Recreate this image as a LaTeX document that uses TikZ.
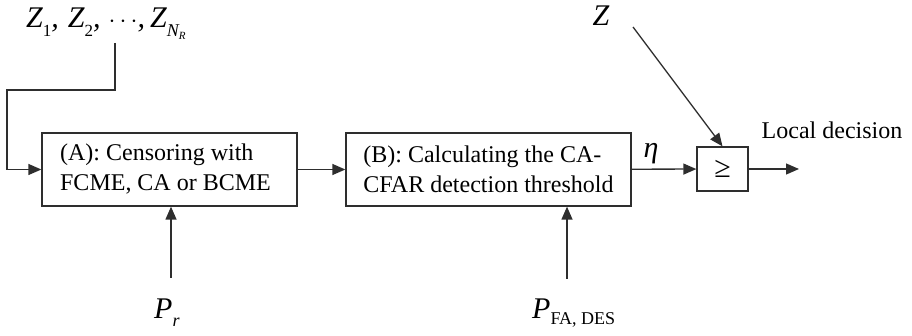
\documentclass[tikz,border=0pt]{standalone}
\usepackage{fontspec}
\setmainfont{Liberation Serif}
\usetikzlibrary{arrows.meta}
% lowered subscript in a given size
\newcommand{\lsub}[3][0.28em]{\raisebox{-#1}{\fontsize{#2}{#2}\selectfont #3}}
\begin{document}
\begin{tikzpicture}[x=1pt,y=-1pt,
  line/.style={draw=black!82,line width=1.3pt},
  arr/.style={line,-{Triangle[length=13pt,width=11pt]}},
  blockbox/.style={line,fill=white,inner xsep=17pt,inner ysep=0pt,align=left,
    font=\fontsize{24}{30}\selectfont,minimum height=73pt},
  sym/.style={font=\fontsize{30}{30}\selectfont\itshape,inner sep=0pt}]
\useasboundingbox (0,0) rectangle (912,336);

% processing blocks
\node[blockbox,minimum width=255pt] (boxA) at (169.5,169.5)
  {\hspace*{-8pt}(A): Censoring with\\\hspace*{-8pt}FCME, CA or BCME};
\node[blockbox,minimum width=285pt] (boxB) at (488.5,169.5)
  {(B): Calculating the CA-\\CFAR detection threshold};
\node[line,minimum width=51pt,minimum height=44pt,inner sep=0pt,
  font=\fontsize{30}{30}\selectfont] (cmp) at (722.5,169) {≥};

% input samples
\node[sym,anchor=base west] (zlist) at (26,28)
  {Z\lsub{17}{\upshape 1},\hspace{9pt}Z\lsub{17}{\upshape 2},\hspace{8pt}$\cdots$,\hspace{5pt}Z\lsub{18}{N\lsub[0.2em]{11}{R}}};
\coordinate (k0) at (115,43);
\coordinate (k1) at (115,90);
\coordinate (k2) at (7,90);
\draw[arr] (k0) -- (k1) -- (k2) |- (boxA.west);

% chain
\draw[arr] (boxA) -- (boxB);
\draw[arr] (boxB) -- node[pos=0.3,above=5pt,font=\fontsize{30}{30}\selectfont\itshape,inner sep=0pt] (eta) {η} (cmp);
\coordinate (out) at (799,169);
\draw[arr] (cmp) -- (out);
\node[font=\fontsize{24}{24}\selectfont] (dec) at (832,130) {Local decision};

% test statistic
\node[sym] (z) at (601,16) {Z};
\coordinate (zs) at (633,27);
\draw[arr] (zs) -- (cmp.north);

% parameters
\node[sym,anchor=base west] (pr) at (154,318) {P\lsub{18}{r}};
\coordinate (pa) at (171,278);
\draw[arr] (pa) -- (pa |- boxA.south);

\node[sym,anchor=base west] (pfa) at (532,318)
  {P\lsub[0.22em]{18}{\upshape FA, DES}};
\coordinate (pb) at (567,279);
\draw[arr] (pb) -- (pb |- boxB.south);
\end{tikzpicture}
\end{document}
